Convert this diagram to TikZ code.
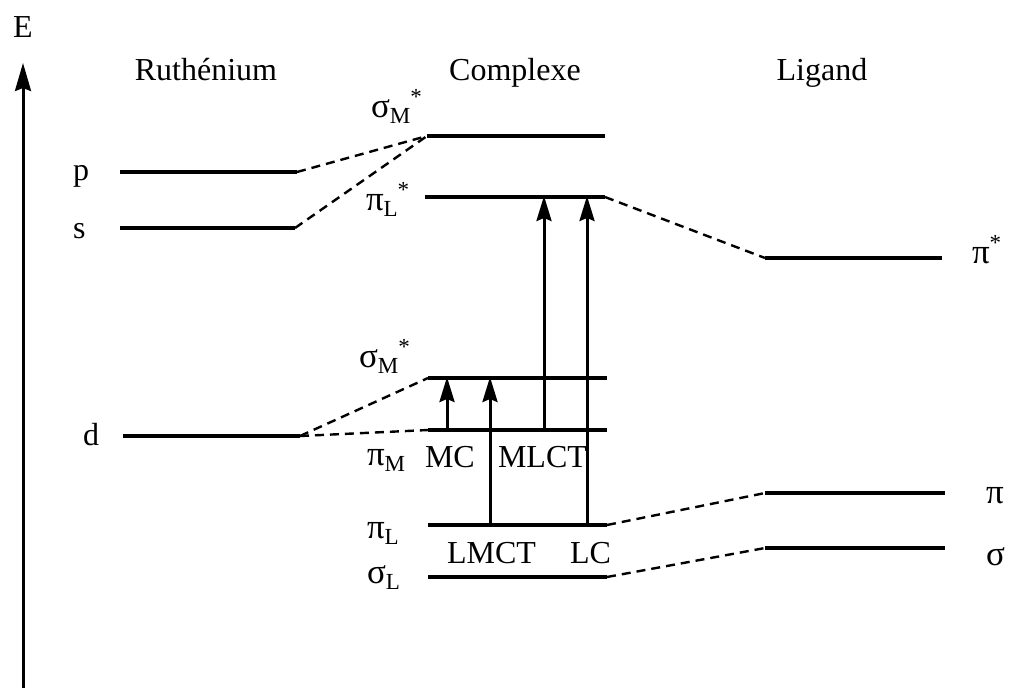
\documentclass[tikz,border=0pt]{standalone}
\usepackage{fontspec}
\setmainfont{Liberation Serif}
\usetikzlibrary{arrows.meta}
\newcommand{\subsz}{\fontsize{23}{23}\selectfont}
\newcommand{\gk}[1]{{\fontsize{35}{36}\selectfont #1}}
\newcommand{\orb}[2]{\gk{#1}{\subsz\raisebox{-6pt}{#2}}}
\newcommand{\orbs}[2]{\gk{#1}{\subsz\raisebox{-6pt}{#2}\raisebox{13pt}{*}}}
\begin{document}
\begin{tikzpicture}[x=1pt,y=-1pt,
  txt/.style={inner sep=0pt,outer sep=0pt,font=\fontsize{32}{36}\selectfont},
  lvl/.style={line width=3.2pt},
  dsh/.style={line width=2.4pt,dash pattern=on 9pt off 6pt},
  trans/.style={line width=3pt,-{Stealth[length=25pt,width=15pt,inset=3pt]}},
  axis/.style={line width=3pt,-{Stealth[length=28pt,width=16pt,inset=3pt]}}]
\useasboundingbox (0,0) rectangle (1016,691);
% axis
\coordinate (a0) at (23,688);
\coordinate (a1) at (23,63);
\draw[axis] (a0) -- (a1);
\node[txt,anchor=base west] (E) at (13,37) {E};
% titles
\node[txt,anchor=base] (ru) at (206,80) {Ruthénium};
\node[txt,anchor=base] (co) at (515,80) {Complexe};
\node[txt,anchor=base] (li) at (822,80) {Ligand};
% metal levels
\coordinate (pA) at (120,172); \coordinate (pB) at (297,172);
\coordinate (sA) at (120,228); \coordinate (sB) at (295,228);
\coordinate (dA) at (123,436); \coordinate (dB) at (300,436);
% complex levels
\coordinate (smtA) at (427,136); \coordinate (smtB) at (605,136);
\coordinate (plsA) at (425,197); \coordinate (plsB) at (605,197);
\coordinate (smlA) at (428,378); \coordinate (smlB) at (607,378);
\coordinate (pmA) at (428,430); \coordinate (pmB) at (607,430);
\coordinate (plA) at (428,525); \coordinate (plB) at (607,525);
\coordinate (slA) at (428,577); \coordinate (slB) at (607,577);
% ligand levels
\coordinate (psA) at (765,258); \coordinate (psB) at (942,258);
\coordinate (piA) at (765,493); \coordinate (piB) at (945,493);
\coordinate (sgA) at (765,548); \coordinate (sgB) at (945,548);
\foreach \l in {p,s,d,smt,pls,sml,pm,pl,sl,ps,pi,sg}
  \draw[lvl] (\l A) -- (\l B);
% correlation lines
\draw[dsh] (pB) -- (smtA);
\draw[dsh] (sB) -- (smtA);
\draw[dsh] (dB) -- (smlA);
\draw[dsh] (dB) -- (pmA);
\draw[dsh] (plsB) -- (psA);
\draw[dsh] (plB) -- (piA);
\draw[dsh] (slB) -- (sgA);
% level labels
\node[txt,anchor=base west] (lp) at (73,180) {p};
\node[txt,anchor=base west] (ls) at (73,238) {s};
\node[txt,anchor=base west] (ld) at (83,445) {d};
\node[txt,anchor=base west] (lsmt) at (371,117) {\orbs{σ}{M}};
\node[txt,anchor=base west] (lpls) at (366,210) {\orbs{π}{L}};
\node[txt,anchor=base west] (lsml) at (359,367) {\orbs{σ}{M}};
\node[txt,anchor=base west] (lpm) at (367,465) {\orb{π}{M}};
\node[txt,anchor=base west] (lpl) at (367,538) {\orb{π}{L}};
\node[txt,anchor=base west] (lsl) at (367,583) {\orb{σ}{L}};
\node[txt,anchor=base west] (lps) at (972,263) {\gk{π}{\subsz\raisebox{13pt}{*}}};
\node[txt,anchor=base west] (lpi) at (986,503) {\gk{π}};
\node[txt,anchor=base west] (lsg) at (986,565) {\gk{σ}};
% transitions
\coordinate (mc0) at (447,430); \coordinate (mc1) at (447,377);
\coordinate (lm0) at (490,525); \coordinate (lm1) at (490,377);
\coordinate (ml0) at (544,430); \coordinate (ml1) at (544,196);
\coordinate (lc0) at (587,525); \coordinate (lc1) at (587,196);
\draw[trans] (mc0) -- (mc1);
\draw[trans] (lm0) -- (lm1);
\draw[trans] (ml0) -- (ml1);
\draw[trans] (lc0) -- (lc1);
\node[txt,anchor=base west] (tmc) at (425,467) {MC};
\node[txt,anchor=base west] (tml) at (498,467) {MLCT};
\node[txt,anchor=base west] (tlm) at (447,563) {LMCT};
\node[txt,anchor=base west] (tlc) at (570,563) {LC};
\end{tikzpicture}
\end{document}
